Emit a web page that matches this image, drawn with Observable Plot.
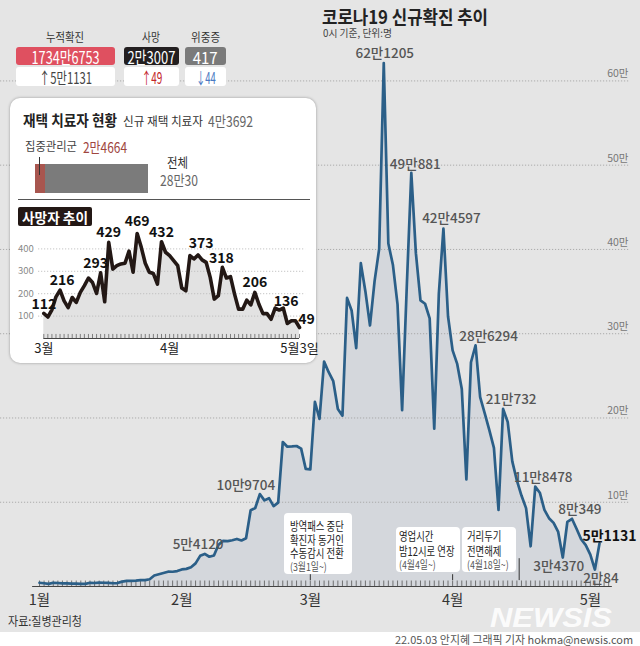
<!DOCTYPE html>
<html><head><meta charset="utf-8">
<script src="https://cdn.jsdelivr.net/npm/d3@7"></script>
<script src="https://cdn.jsdelivr.net/npm/@observablehq/plot@0.6"></script>
<style>
html,body{margin:0;padding:0;background:#fff;}
#wrap{position:relative;width:640px;height:646px;overflow:hidden;background:#e5e5e5;font-family:"Noto Sans CJK KR","Noto Sans",sans-serif;}
#wrap svg{position:absolute;overflow:visible;}
</style></head>
<body><div id="wrap"></div>
<script>
const FONT = '"Noto Sans CJK KR","Noto Sans",sans-serif';

// ---- data: daily new cases, 2022-01-01 .. 2022-05-03
const janCases = [4415,3833,3129,4442,4125,3713,3717,3511,3376,3005,3094,4388,4167,4542,4423,4194,3859,4071,5805,6603,6769,7009,7630,7513,8571,13012,14518,16096,17542,17528,18342];
const febCases = [20270,20908,22907,27443,36362,38691,35286,36719,49567,54120,53926,54941,56431,54619,57177,90443,93135,109704,102211,104829,95362,99573,171452,165890,166209,166722,163566,139626];
const marCases = [138993,219241,198803,266853,254327,243628,210716,202721,342446,327549,282987,383665,350190,309790,362338,400741,621205,407017,381454,334708,209169,353980,490881,395598,339514,335580,318130,187213,347554,424597,320743];
const aprCases = [280273,264171,234301,127190,266135,286294,224820,205333,185566,164481,90928,210732,195419,148443,125846,107916,93001,47743,118478,111319,90867,81058,75449,64725,34370,76787,80349,68560,56037,49063];
const mayCases = [37771,20084,51131];
const caseValues = [...janCases, ...febCases, ...marCases, ...aprCases, ...mayCases];

// daily deaths, 2022-03-01 .. 2022-05-03
const deathValues = [112,96,128,186,216,168,138,183,161,206,236,270,250,201,293,164,429,310,325,333,336,390,296,469,408,336,296,290,243,432,385,370,348,325,225,213,370,355,373,351,340,273,176,191,318,270,276,198,131,131,171,150,206,153,111,111,86,136,127,136,67,79,79,49];

const peakLabels = [
  {date:"2022-02-10", text:"5만4120"}, {date:"2022-02-18", text:"10만9704"},
  {date:"2022-03-17", text:"62만1205"}, {date:"2022-03-23", text:"49만881"},
  {date:"2022-03-30", text:"42만4597"}, {date:"2022-04-06", text:"28만6294"},
  {date:"2022-04-12", text:"21만732"}, {date:"2022-04-19", text:"11만8478"},
  {date:"2022-04-27", text:"8만349"}, {date:"2022-04-25", text:"3만4370"},
  {date:"2022-05-02", text:"2만84"}, {date:"2022-05-03", text:"5만1131"}
];
const deathLabelDays = [0,4,14,16,23,29,38,44,52,57,63];
const gridValues = [100000,200000,300000,400000,500000,600000];
const deathGrid = [100,200,300,400];
const monthTicks = ["2022-01-01","2022-02-01","2022-03-01","2022-04-01","2022-05-01"];
const deathMonthTicks = [{date:"2022-03-01", text:"3월"},{date:"2022-04-01", text:"4월"},{date:"2022-05-03", text:"5월3일"}];

const statLabels = ["누적확진","사망","위중증"];
const statValues = ["1734만6753","2만3007","417"];
const statChanges = ["↑5만1131","↑49","↓44"];

const homeNew = "4만3692";
const homeIntensive = 24664, homeIntensiveText = "2만4664";
const homeTotal = 280030, homeTotalText = "28만30";

const annotations = [
  {tick:"2022-03-01", lines:["방역패스 중단","확진자 동거인","수동감시 전환"], note:"(3월1일~)"},
  {tick:"2022-04-01", lines:["영업시간","밤12시로 연장"], note:"(4월4일~)"},
  {tick:"2022-04-15T12:00Z", lines:["거리두기","전면해제"], note:"(4월18일~)"}
];

// ---- styling (positions/offsets, separate from data)
const peakStyle = {
  "5만4120":{dx:-25,dy:4}, "10만9704":{dx:-14,dy:-8}, "62만1205":{dx:1,dy:-9},
  "49만881":{dx:4,dy:-8}, "42만4597":{dx:8,dy:-10}, "28만6294":{dx:13,dy:-9},
  "21만732":{dx:8,dy:-9}, "11만8478":{dx:8,dy:-9}, "8만349":{dx:8,dy:-9},
  "3만4370":{dx:-4,dy:9}, "2만84":{dx:6,dy:9}, "5만1131":{dx:10,dy:-7,bold:true}
};
const deathLabelStyle = [[0,-9],[2,-10],[-5,-9],[0,-10],[0,-12],[0,-9],[3,-11],[-1,-9],[0,-10],[11,-7],[7,-8]];

const wrap = document.getElementById("wrap");
const DAY = 864e5;
const start = new Date(Date.UTC(2022,0,1));
const dayAt = i => new Date(start.getTime() + i*DAY);
const cases = caseValues.map((v,i)=>({date:dayAt(i), value:v}));
const caseByTime = new Map(cases.map(d=>[d.date.getTime(), d.value]));
const P = s => new Date(s.length===10 ? s+"T00:00Z" : s);

function condense(svg, sel, f){
  svg.querySelectorAll(sel).forEach(t=>{
    const x = +(t.getAttribute("x")||0), y = +(t.getAttribute("y")||0);
    const tr = t.getAttribute("transform")||"";
    t.setAttribute("transform", `${tr} translate(${x},${y}) scale(${f},1) translate(${-x},${-y})`);
  });
}

// ---- main chart
const dayTicks = d3.range(0,125).map(dayAt);
const peakMarks = peakLabels.map(l=>{
  const s = peakStyle[l.text];
  return Plot.text([l], {x:d=>P(d.date), y:d=>caseByTime.get(P(d.date).getTime()), text:"text",
    dx:s.dx, dy:s.dy, fontSize: s.bold?14:13.5, fontWeight: s.bold?"bold":"500",
    fill: s.bold?"#111":"#555", textAnchor:"middle", lineAnchor:"middle", ariaLabel:"peaks"});
});
const main = Plot.plot({
  width:640, height:646, marginLeft:39, marginRight:41, marginTop:13, marginBottom:60,
  style:{background:"transparent", fontFamily:FONT, overflow:"visible"},
  x:{type:"utc", domain:[start, dayAt(122)], axis:null},
  y:{domain:[0,680000], axis:null},
  marks:[
    Plot.areaY(cases,{x:"date", y:"value", fill:"#d4d7dc"}),
    Plot.ruleY(gridValues,{y:d=>d, x1:()=>dayAt(-8.5), x2:()=>dayAt(128.7), stroke:"#a5a5a5", strokeWidth:0.9, strokeDasharray:"1.2,1.8"}),
    Plot.text(gridValues,{y:d=>d, text:d=>d/10000+"만", frameAnchor:"right", textAnchor:"end", dx:29, dy:-7, fontSize:10.5, fill:"#777", ariaLabel:"gridlabels"}),
    Plot.ruleX(dayTicks,{x:d=>d, y1:0, y2:6500, stroke:"#555", strokeWidth:0.8}),
    Plot.ruleY([0],{x1:()=>dayAt(-1.5), x2:()=>dayAt(124.8), stroke:"#444", strokeWidth:1}),
    Plot.ruleX(annotations,{x:d=>P(d.tick), y1:7000, y2:(d,i)=>i===2?33000:14000, stroke:"#333", strokeWidth:1}),
    Plot.lineY(cases,{x:"date", y:"value", stroke:"#2b5f88", strokeWidth:2.7, strokeLinejoin:"round"}),
    Plot.text(monthTicks,{x:d=>P(d), frameAnchor:"bottom", dy:14, text:d=>(P(d).getUTCMonth()+1)+"월", fontSize:14.5, fill:"#333", lineAnchor:"middle", ariaLabel:"months"}),
    ...peakMarks
  ]
});
main.style.left="0px"; main.style.top="0px";
wrap.appendChild(main);
condense(main,'g[aria-label="peaks"] text',0.72);
condense(main,'g[aria-label="gridlabels"] text',0.72);
condense(main,'g[aria-label="months"] text',0.92);

// ---- html helpers
function div(o){
  const e=document.createElement("div");
  Object.assign(e.style,{position:"absolute",left:o.x+"px",top:o.y+"px",width:o.w+"px",height:o.h+"px",background:o.bg||"#fff",borderRadius:(o.r||0)+"px"},o.style||{});
  wrap.appendChild(e); return e;
}
function txt(str,o){
  const e=document.createElement("div");
  e.textContent=str;
  Object.assign(e.style,{position:"absolute",left:"0px",top:(o.cy-o.size/2)+"px",fontSize:o.size+"px",lineHeight:o.size+"px",
    color:o.color||"#333",fontWeight:o.weight||"normal",whiteSpace:"nowrap",fontFamily:o.font||FONT,fontStyle:o.italic?"italic":"normal"});
  wrap.appendChild(e);
  const w=e.getBoundingClientRect().width;
  const s=o.w? o.w/w : (o.scale||1);
  if(o.anchor==="middle"){e.style.left=(o.x-w/2)+"px";e.style.transformOrigin="center center";}
  else{e.style.left=o.x+"px";e.style.transformOrigin="left center";}
  e.style.transform=`scaleX(${s})`;
  return e;
}

// title
txt("코로나19 신규확진 추이",{x:322,cy:15.5,size:18,weight:"bold",color:"#222",w:166});
txt("0시 기준, 단위:명",{x:323,cy:32.5,size:10,color:"#444",w:69});

// stats
const statBoxes=[{cx:65.5,x:16,w:99,bg:"#df5060",vw:68,cw:53,lw:38,cc:"#444"},
                 {cx:151.5,x:124,w:55,bg:"#231f20",vw:48,cw:21,lw:18,cc:"#c3262b"},
                 {cx:205.5,x:185,w:41,bg:"#7a7a7a",vw:25,cw:20,lw:29,cc:"#4a78c2"}];
statBoxes.forEach((b,i)=>{
  div({x:b.x,y:46.5,w:b.w,h:18,bg:b.bg,r:3});
  div({x:b.x,y:67,w:b.w,h:18.5,bg:"#fff",r:3});
  txt(statLabels[i],{x:b.cx,cy:37,size:12,color:"#333",w:b.lw,anchor:"middle"});
  txt(statValues[i],{x:b.cx,cy:56,size:17,color:"#fff",w:b.vw,anchor:"middle"});
  txt(statChanges[i],{x:b.cx,cy:76.5,size:16,color:b.cc,w:b.cw,anchor:"middle"});
});

// inset panel
div({x:10,y:98,w:306,h:265,bg:"#fff",r:10,style:{boxShadow:"0 0 3px rgba(0,0,0,0.35)"}});
txt("재택 치료자 현황",{x:23,cy:119,size:15,weight:"bold",color:"#222",w:94});
txt("신규 재택 치료자",{x:123,cy:121,size:12,color:"#333",w:80});
txt(homeNew,{x:208,cy:120.5,size:15,color:"#666",w:45});
txt("집중관리군",{x:25,cy:146,size:12.5,color:"#444",w:52});
txt(homeIntensiveText,{x:83,cy:146,size:15,color:"#a0463f",w:44});
const barW=113, redW=barW*homeIntensive/homeTotal;
div({x:35,y:164,w:redW,h:29,bg:"#a8564f"});
div({x:35+redW,y:164,w:barW-redW,h:29,bg:"#7b7b7b"});
div({x:35+redW/2-0.5,y:157,w:1,h:18,bg:"#333"});
txt("전체",{x:167,cy:161,size:13,color:"#333",w:21});
txt(homeTotalText,{x:160,cy:179,size:15,color:"#666",w:38});
div({x:18,y:198.5,w:292,h:1.5,bg:"#555"});

// deaths inset chart
const dStart = new Date(Date.UTC(2022,2,1));
const dDay = i => new Date(dStart.getTime()+i*DAY);
const deaths = deathValues.map((v,i)=>({date:dDay(i), value:v}));
const dLabelMarks = deathLabelDays.map((k,j)=>Plot.text([deaths[k]],{x:"date",y:"value",text:d=>String(d.value),
  dx:deathLabelStyle[j][0], dy:deathLabelStyle[j][1], fontSize:14, fontWeight:"bold", fill:"#111", textAnchor:"middle", lineAnchor:"middle", ariaLabel:"dlabels"}));
const inset = Plot.plot({
  width:306, height:160, marginLeft:33.3, marginRight:17, marginTop:26, marginBottom:22,
  style:{background:"transparent", fontFamily:FONT, overflow:"visible"},
  x:{type:"utc", domain:[dStart, dDay(63)], axis:null},
  y:{domain:[0,500], axis:null},
  marks:[
    Plot.areaY(deaths,{x:"date",y:"value",fill:"#e2e2e2"}),
    Plot.ruleY(deathGrid,{y:d=>d, x1:()=>dDay(-1.3), x2:()=>dDay(64.5), stroke:"#bdbdbd", strokeWidth:0.9, strokeDasharray:"1.2,1.8"}),
    Plot.text(deathGrid,{y:d=>d, text:d=>String(d), frameAnchor:"left", textAnchor:"end", dx:-10, fontSize:9.5, fill:"#888", lineAnchor:"middle", ariaLabel:"dgrid"}),
    Plot.ruleX(d3.range(0,64).map(dDay),{x:d=>d, y1:0, y2:18, stroke:"#666", strokeWidth:0.8}),
    Plot.ruleY([0],{x1:()=>dDay(0), x2:()=>dDay(63), stroke:"#444", strokeWidth:1}),
    Plot.lineY(deaths,{x:"date",y:"value",stroke:"#231815",strokeWidth:3.6,strokeLinejoin:"round"}),
    Plot.text(deathMonthTicks,{x:d=>P(d.date), frameAnchor:"bottom", dy:10.5, text:"text", fontSize:13, fill:"#222", lineAnchor:"middle", textAnchor:"middle", ariaLabel:"dmonths"}),
    ...dLabelMarks
  ]
});
inset.style.left="10px"; inset.style.top="200px";
wrap.appendChild(inset);
condense(inset,'g[aria-label="dlabels"] text',0.7);
condense(inset,'g[aria-label="dgrid"] text',0.85);
condense(inset,'g[aria-label="dmonths"] text',0.85);
inset.querySelectorAll('g[aria-label="dmonths"] text').forEach((t,i)=>{ if(i===2) t.setAttribute("dx","-3"); });

div({x:18,y:207,w:74,h:19,bg:"#231815",r:2});
txt("사망자 추이",{x:22,cy:216.5,size:14,weight:"bold",color:"#fff",w:66});

// annotation boxes
const annBoxes=[{x:284,y:513,w:68,h:61,tx:290,c0:526,lh:13.7},
                {x:396,y:527,w:64,h:45,tx:399,c0:536,lh:14.5},
                {x:462,y:527,w:54,h:45,tx:467,c0:536,lh:14.5}];
annotations.forEach((a,i)=>{
  const b=annBoxes[i];
  div({x:b.x,y:b.y,w:b.w,h:b.h,bg:"#fff",r:4});
  a.lines.forEach((l,j)=>txt(l,{x:b.tx,cy:b.c0+j*b.lh,size:12,color:"#222",scale:0.78}));
  txt(a.note,{x:b.tx,cy:b.c0+a.lines.length*b.lh-0.5,size:11,color:"#555",scale:0.8});
});

// source, watermark, footer
txt("자료:질병관리청",{x:8,cy:621,size:12.5,color:"#333",w:74});
txt("NEWSIS",{x:490,cy:618,size:28,weight:"bold",italic:true,color:"rgba(255,255,255,0.9)",font:'"Liberation Sans",Arial,sans-serif',w:122});
div({x:0,y:632,w:640,h:14,bg:"#fff"});
txt("22.05.03 안지혜 그래픽 기자 hokma@newsis.com",{x:395,cy:639.5,size:11,color:"#555",w:238});
</script></body></html>
